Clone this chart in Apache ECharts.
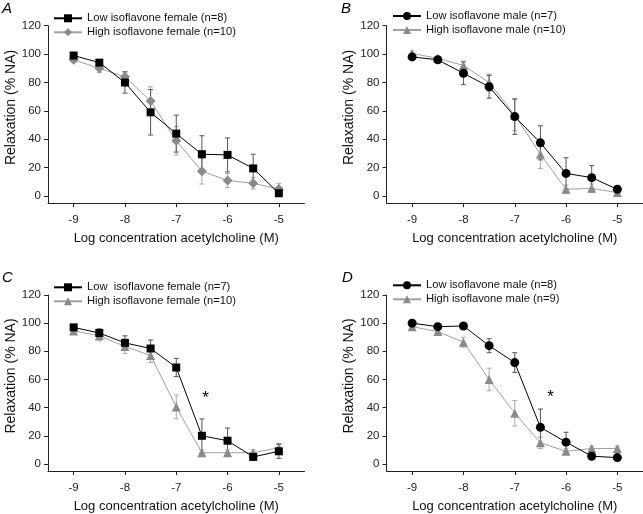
<!DOCTYPE html>
<html><head><meta charset="utf-8">
<script src="https://cdn.jsdelivr.net/npm/echarts@6/dist/echarts.min.js"></script>
<style>html,body{margin:0;padding:0;background:#fff}#c{width:643px;height:514px}</style>
</head><body><div id="c"></div>
<script>
// ---------- data ----------
const xValues = [-9, -8.5, -8, -7.5, -7, -6.5, -6, -5.5, -5];
const xTicks = [-9, -8, -7, -6, -5];
const yTicks = [0, 20, 40, 60, 80, 100, 120];
const panelLetters = ['A', 'B', 'C', 'D'];
const xAxisTitle = 'Log concentration acetylcholine (M)';
const yAxisTitle = 'Relaxation (% NA)';

// Panel A
const aLowName = 'Low isoflavone female (n=8)';
const aHighName = 'High isoflavone female (n=10)';
const aLow = [99, 94, 80, 59, 44, 29.5, 29, 19.5, 2];
const aLowErr = [2, 2, 7.5, 16, 13, 13, 12, 10, 2];
const aHigh = [96, 90, 84, 67, 39, 17.5, 11, 9, 5];
const aHighErr = [2, 3, 3.5, 10, 10, 9, 5, 4, 4];

// Panel B
const bLowName = 'Low isoflavone male (n=7)';
const bHighName = 'High isoflavone male (n=10)';
const bLow = [98, 96, 86.5, 77, 56, 37.5, 16, 13, 4.8];
const bLowErr = [2, 1.5, 8, 8, 12.5, 12, 11, 8.5, 1.5];
const bHigh = [100.5, 97, 92, 80, 57, 29.5, 4.8, 5.5, 2.5];
const bHighErr = [1.5, 1.5, 3, 6, 11, 10, 3, 3, 1];

// Panel C
const cLowName = 'Low  isoflavone female (n=7)';
const cHighName = 'High isoflavone female (n=10)';
const cLow = [97, 93, 86, 82, 68.5, 20, 16.5, 5, 9];
const cLowErr = [2, 3, 5, 6, 6.5, 12, 9, 2.5, 5];
const cHigh = [94.5, 91, 83.5, 77, 40.5, 8, 8, 8, 11.5];
const cHighErr = [2, 3.5, 5, 5, 8.5, 2, 2, 2, 3];
const cStar = [-6.43, 46.5];

// Panel D
const dLowName = 'Low isoflavone male (n=8)';
const dHighName = 'High isoflavone male (n=9)';
const dLow = [100, 97.5, 98, 84, 72, 26, 15.5, 5.5, 4.5];
const dLowErr = [1.5, 1.5, 1.5, 5, 7, 13, 7, 1.5, 1.5];
const dHigh = [97.5, 94, 86.5, 60, 36, 15, 9, 11, 11];
const dHighErr = [1.5, 1.5, 3.5, 8, 9, 4, 2, 1.5, 1.5];
const dStar = [-6.3, 47];

// ---------- layout / style ----------
const FONT = 'Liberation Sans, Arial, sans-serif';
const gridPos = [
  {left: 48, top: 25.7},
  {left: 386.5, top: 25.7},
  {left: 48, top: 295},
  {left: 386.5, top: 295}
];
const legendPos = [
  {left: 53, top: 11.3},
  {left: 392, top: 9},
  {left: 53, top: 280.3},
  {left: 392, top: 278.3}
];
const letterPos = [
  {left: 2, top: 1},
  {left: 341, top: 1},
  {left: 2, top: 270},
  {left: 342, top: 270}
];

const panels = [
  {low: aLow, lowErr: aLowErr, high: aHigh, highErr: aHighErr, lowName: aLowName, highName: aHighName, lowSym: 'rect', highSym: 'diamond', lowSize: 8, highSize: 10, star: null},
  {low: bLow, lowErr: bLowErr, high: bHigh, highErr: bHighErr, lowName: bLowName, highName: bHighName, lowSym: 'circle', highSym: 'triangle', lowSize: 9, highSize: 9, star: null},
  {low: cLow, lowErr: cLowErr, high: cHigh, highErr: cHighErr, lowName: cLowName, highName: cHighName + ' ', lowSym: 'rect', highSym: 'triangle', lowSize: 8, highSize: 9, star: cStar},
  {low: dLow, lowErr: dLowErr, high: dHigh, highErr: dHighErr, lowName: dLowName, highName: dHighName, lowSym: 'circle', highSym: 'triangle', lowSize: 9, highSize: 9, star: dStar}
];

const LOW_COLOR = '#000000';
const HIGH_FILL = '#8a8a8a';
const HIGH_LINE = '#a0a0a0';
const LOW_ERR = '#555555';
const HIGH_ERR = '#a8a8a8';

function errRender(color) {
  return function (params, api) {
    const x = api.value(0), y = api.value(1), e = api.value(2);
    const t = api.coord([x, y + e]);
    const b = api.coord([x, y - e]);
    const hw = 2.5;
    const st = {stroke: color, lineWidth: 1};
    return {
      type: 'group',
      children: [
        {type: 'line', shape: {x1: t[0], y1: t[1], x2: b[0], y2: b[1]}, style: st},
        {type: 'line', shape: {x1: t[0] - hw, y1: t[1], x2: t[0] + hw, y2: t[1]}, style: st},
        {type: 'line', shape: {x1: b[0] - hw, y1: b[1], x2: b[0] + hw, y2: b[1]}, style: st}
      ]
    };
  };
}

function starRender(params, api) {
  const c = api.coord([api.value(0), api.value(1)]);
  return {
    type: 'text',
    style: {text: '*', x: c[0], y: c[1], align: 'center', verticalAlign: 'middle',
            font: '17px ' + FONT, fill: '#000'}
  };
}

const grid = [], xAxis = [], yAxis = [], series = [], legend = [], title = [];

panels.forEach((p, i) => {
  grid.push({left: gridPos[i].left, top: gridPos[i].top, width: 256.5, height: 177.5});
  xAxis.push({
    type: 'value', gridIndex: i, min: -9.5, max: -4.5,
    name: xAxisTitle, nameLocation: 'middle', nameGap: 29,
    nameTextStyle: {fontFamily: FONT, fontSize: 13, color: '#111'},
    axisLine: {onZero: false, lineStyle: {color: '#222', width: 1}},
    axisTick: {show: true, length: 4, customValues: xTicks, lineStyle: {color: '#222'}},
    axisLabel: {customValues: xTicks, margin: 11, fontFamily: FONT, fontSize: 11.5, color: '#222'},
    splitLine: {show: false}
  });
  yAxis.push({
    type: 'value', gridIndex: i, min: -5, max: 120,
    name: yAxisTitle, nameLocation: 'middle', nameGap: 29, nameRotate: 90,
    nameTextStyle: {fontFamily: FONT, fontSize: 14, color: '#111', padding: [0, 0, 0, 14]},
    axisLine: {onZero: false, lineStyle: {color: '#222', width: 1}},
    axisTick: {show: true, length: 4, customValues: yTicks, lineStyle: {color: '#222'}},
    axisLabel: {customValues: yTicks, margin: 7, fontFamily: FONT, fontSize: 11.5, color: '#222'},
    splitLine: {show: false}
  });
  legend.push({
    left: legendPos[i].left, top: legendPos[i].top, orient: 'vertical', padding: 0,
    itemWidth: 28, itemHeight: 10, itemGap: 0,
    data: [p.lowName, p.highName],
    formatter: n => n.replace(/ $/, ''),
    textStyle: {fontFamily: FONT, fontSize: 11.2, color: '#111', lineHeight: 14},
    selectedMode: false
  });
  title.push({
    text: panelLetters[i], left: letterPos[i].left, top: letterPos[i].top, padding: 0,
    textStyle: {fontFamily: FONT, fontStyle: 'italic', fontWeight: 'normal', fontSize: 15, color: '#000'}
  });
  series.push({
    type: 'custom', xAxisIndex: i, yAxisIndex: i, z: 1, silent: true,
    renderItem: errRender(HIGH_ERR),
    data: xValues.map((x, k) => [x, p.high[k], p.highErr[k]]),
    encode: {x: 0, y: 1}
  });
  series.push({
    type: 'custom', xAxisIndex: i, yAxisIndex: i, z: 1, silent: true,
    renderItem: errRender(LOW_ERR),
    data: xValues.map((x, k) => [x, p.low[k], p.lowErr[k]]),
    encode: {x: 0, y: 1}
  });
  series.push({
    type: 'line', name: p.highName, xAxisIndex: i, yAxisIndex: i, z: 2,
    data: xValues.map((x, k) => [x, p.high[k]]),
    symbol: p.highSym, symbolSize: p.highSize, showAllSymbol: true,
    itemStyle: {color: HIGH_FILL, borderWidth: 0},
    lineStyle: {color: HIGH_LINE, width: 1}
  });
  series.push({
    type: 'line', name: p.lowName, xAxisIndex: i, yAxisIndex: i, z: 3,
    data: xValues.map((x, k) => [x, p.low[k]]),
    symbol: p.lowSym, symbolSize: p.lowSize, showAllSymbol: true,
    itemStyle: {color: LOW_COLOR, borderWidth: 0},
    lineStyle: {color: LOW_COLOR, width: 1}
  });
  if (p.star) {
    series.push({
      type: 'custom', xAxisIndex: i, yAxisIndex: i, z: 4, silent: true,
      renderItem: starRender,
      data: [p.star], encode: {x: 0, y: 1}
    });
  }
});

const chart = echarts.init(document.getElementById('c'), null, {renderer: 'canvas'});
chart.setOption({animation: false, backgroundColor: '#fff', grid, xAxis, yAxis, series, legend, title});
</script>
</body></html>
